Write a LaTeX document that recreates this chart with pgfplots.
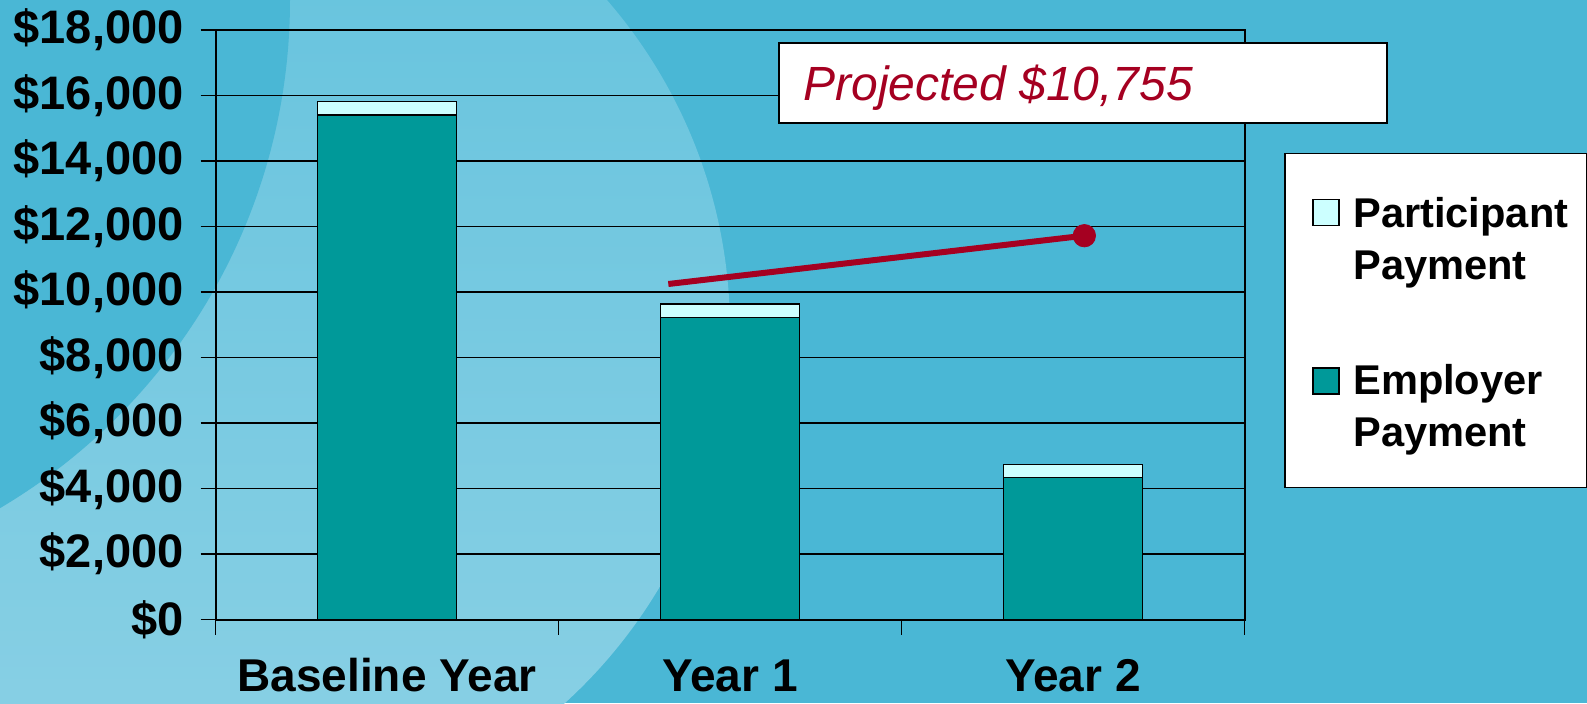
\documentclass[border=0pt]{standalone}
\usepackage{pgfplots}
\pgfplotsset{compat=1.18}
\usepackage{fontspec}
\setmainfont{Liberation Sans}
\definecolor{bgdark}{RGB}{74,183,213}
\definecolor{bglightA}{RGB}{98,194,221}
\definecolor{bglightB}{RGB}{140,209,229}
\definecolor{empteal}{RGB}{0,153,153}
\definecolor{partpale}{RGB}{204,255,255}
\definecolor{projred}{RGB}{165,0,33}
\begin{document}
\begin{tikzpicture}[x=1pt,y=1pt]
\useasboundingbox (0,0) rectangle (793.5,351.5);
% background swirl
\begin{scope}
\clip (0,0) rectangle (793.5,351.5);
\fill[bgdark] (0,0) rectangle (793.5,351.5);
\shade[top color=bglightA, bottom color=bglightB] (113,186.5) circle (252);
\fill[bgdark] (-150,351.5) circle (295);
\end{scope}
% bars
\begin{axis}[
  at={(107.8pt,41.75pt)}, anchor=south west,
  scale only axis, width=514.45pt, height=294.75pt,
  xmin=-0.5, xmax=2.5, ymin=0, ymax=18000,
  enlargelimits=false,
  ybar stacked, bar width=69.5pt,
  axis line style={line width=1pt, black},
  xtick={-0.5,0.5,1.5,2.5},
  xticklabels={},
  extra x ticks={0,1,2},
  extra x tick labels={Baseline Year, Year 1, Year 2},
  extra x tick style={major tick length=0pt},
  major tick length=7.5pt,
  tick align=outside,
  xtick pos=lower, ytick pos=left,
  ytick={0,2000,4000,6000,8000,10000,12000,14000,16000,18000},
  yticklabels={{\$0},{\$2,000},{\$4,000},{\$6,000},{\$8,000},{\$10,000},{\$12,000},{\$14,000},{\$16,000},{\$18,000}},
  scaled y ticks=false,
  ymajorgrids,
  grid style={black, line width=0.75pt},
  tick style={black, line width=0.75pt},
  yticklabel style={font=\fontsize{23.5}{27}\selectfont\bfseries, inner sep=0pt, xshift=-8.3pt},
  xticklabel style={font=\fontsize{23}{27}\selectfont\bfseries, anchor=base, yshift=-36pt},
  legend cell align=left,
  legend style={at={(1.3329,0.7919)}, anchor=north east,
    draw=black, line width=0.75pt, fill=white,
    inner xsep=9pt, inner ysep=16pt,
    row sep=4pt, column sep=6.65pt,
    font=\fontsize{20.8}{24}\selectfont\bfseries,
    nodes={inner sep=0pt, text depth={}, text height={}},
    cells={anchor=base west}},
]
\addplot[forget plot, fill=empteal, draw=black, line width=0.75pt]
  coordinates {(0,15400) (1,9220) (2,4340)};
\addplot[forget plot, fill=partpale, draw=black, line width=0.75pt]
  coordinates {(0,420) (1,420) (2,400)};
\addlegendimage{legend image code/.code={\path (0pt,0pt); \draw[fill=partpale, draw=black, line width=0.75pt] (4.85pt,1pt) rectangle (17.85pt,14pt);}}
\addlegendentry{\rule[-7.5pt]{0pt}{28.65pt}Participant}
\addlegendimage{empty legend}
\addlegendentry{\rule[-38.35pt]{0pt}{15pt}Payment}
\addlegendimage{legend image code/.code={\path (0pt,0pt); \draw[fill=empteal, draw=black, line width=0.75pt] (4.85pt,0pt) rectangle (17.85pt,13pt);}}
\addlegendentry{\rule[-8pt]{0pt}{15pt}Employer}
\addlegendimage{empty legend}
\addlegendentry{\rule[-4.35pt]{0pt}{15pt}Payment}
\end{axis}
% projection line
\begin{axis}[
  at={(107.8pt,41.75pt)}, anchor=south west,
  scale only axis, width=514.45pt, height=294.75pt,
  xmin=-0.5, xmax=2.5, ymin=0, ymax=18000,
  enlargelimits=false, hide axis, clip=false,
]
\addplot[projred, line width=3pt] coordinates {(0.82,10244) (2.033,11719)};
\addplot[only marks, mark=*, mark size=5.6pt, mark options={fill=projred, draw=projred}] coordinates {(2.033,11719)};
\end{axis}
% callout
\draw[black, line width=1pt, fill=white] (389.5,289.75) rectangle (693.5,329.75);
\node[anchor=base west, inner sep=0pt, text=projred, font=\fontsize{24}{28}\selectfont\itshape] at (401.5,301.25) {Projected \$10,755};
\end{tikzpicture}
\end{document}
